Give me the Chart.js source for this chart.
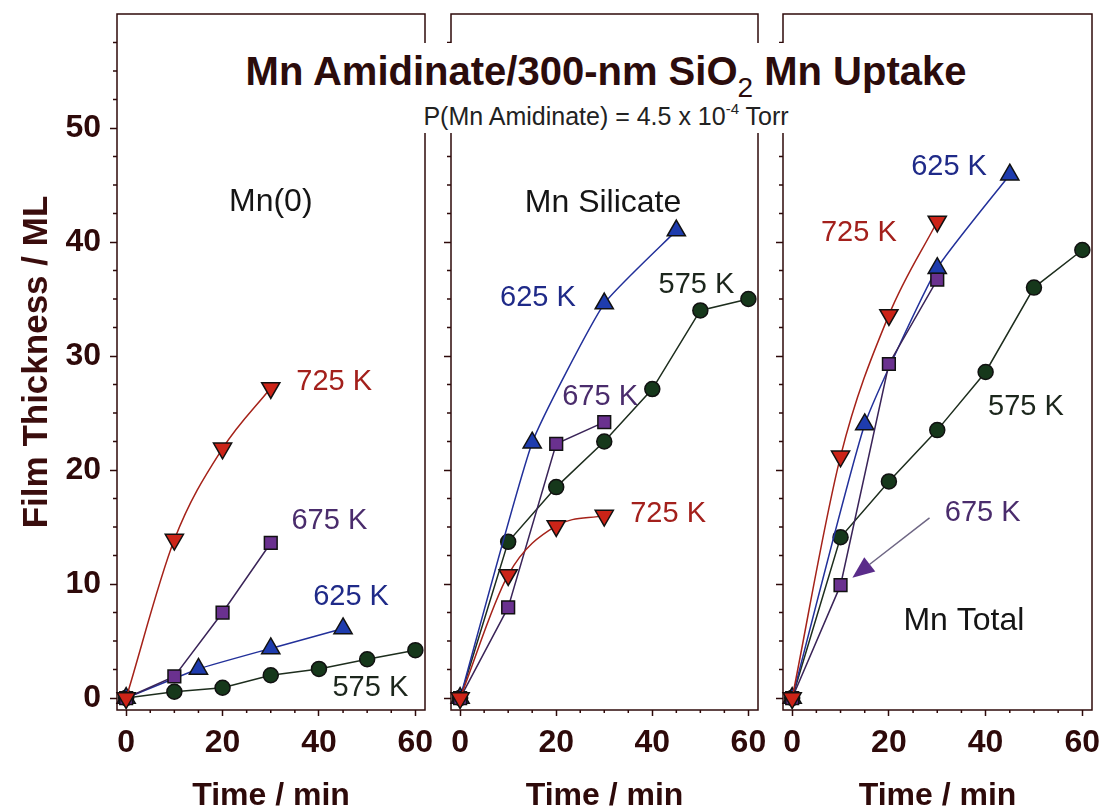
<!DOCTYPE html>
<html>
<head>
<meta charset="utf-8">
<title>Mn Uptake</title>
<script src="https://cdn.jsdelivr.net/npm/chart.js@4.4.0/dist/chart.umd.min.js"></script>
<style>
  body { margin: 0; background: #fff; }
  #wrap { position: relative; width: 1105px; height: 812px; overflow: hidden; font-family: 'Liberation Sans', Arial, sans-serif; }
  canvas { position: absolute; left: 0; top: 0; }
  #title { position: absolute; left: 241px; top: 43px; width: 730px; height: 90px; background: #fff; color: #2b0c0c; text-align: center; }
  #title .main { position: absolute; left: 0; width: 100%; top: 8px; font-size: 40px; font-weight: bold; line-height: 40px; white-space: nowrap; }
  #title .main span { position: relative; top: 12px; font-size: 28px; font-weight: normal; }
  #title .sub { position: absolute; left: 0; width: 100%; top: 55px; font-size: 25px; line-height: 25px; white-space: nowrap; color: #222; }
  #title .sub sup { font-size: 15px; position: relative; top: -2px; }
</style>
</head>
<body>
<div id="wrap">
  <canvas id="c0" width="1105" height="812"></canvas>
  <canvas id="c1" width="1105" height="812"></canvas>
  <canvas id="c2" width="1105" height="812"></canvas>
  <div id="title">
    <div class="main">Mn Amidinate/300-nm SiO<span>2</span> Mn Uptake</div>
    <div class="sub">P(Mn Amidinate) = 4.5 x 10<sup>-4</sup> Torr</div>
  </div>
</div>
<script>
// sampling times (min)
const time575 = [0, 10, 20, 30, 40, 50, 60];
const time625 = [0, 15, 30, 45];
const time675 = [0, 10, 20, 30];
const time725 = [0, 10, 20, 30];

// Mn(0) film thickness (ML)
const mn0_575 = [0, 0.55, 0.9, 2.0, 2.55, 3.4, 4.2];
const mn0_625 = [0, 2.55, 4.35, 6.1];
const mn0_675 = [0, 1.9, 7.5, 13.6];
const mn0_725 = [0, 13.9, 21.9, 27.2];

// Mn silicate
const sil_575 = [0, 13.7, 18.5, 22.5, 27.1, 34.0, 35.0];
const sil_625 = [0, 22.4, 34.6, 41.0];
const sil_675 = [0, 7.95, 22.3, 24.2];
const sil_725 = [0, 10.8, 15.1, 16.0];

// Mn total
const tot_575 = [0, 14.1, 19.0, 23.5, 28.6, 36.0, 39.3];
const tot_625 = [0, 24.0, 37.7, 45.9];
const tot_675 = [0, 9.9, 29.3, 36.7];
const tot_725 = [0, 21.2, 33.6, 41.8];

const xTicks = [0, 20, 40, 60];
const yTicks = [0, 10, 20, 30, 40, 50];

const AX = '#2e0a0a';
Chart.defaults.font.family = "'Liberation Sans', Arial, Helvetica, sans-serif";

const look = {
  575: { line: '#1d2d1d', fill: '#16381b', shape: 'circle', r: 7.5, rot: 0, mode: 'default', tension: 0, text: '#1c261c' },
  625: { line: '#22309a', fill: '#1e3cae', shape: 'triangle', r: 10.5, rot: 0, mode: 'default', tension: 0.15, text: '#1f2a88' },
  675: { line: '#3a2458', fill: '#6a318f', shape: 'rect', r: 9, rot: 0, mode: 'default', tension: 0, text: '#4a2c6c' },
  725: { line: '#a52219', fill: '#cc2418', shape: 'triangle', r: 10.5, rot: 180, mode: 'monotone', tension: 0, text: '#a3201c' }
};

function pts(xs, ys) {
  return xs.map((x, i) => ({ x: x, y: ys[i] }));
}

function series(k, xs, ys) {
  const s = look[k];
  return {
    label: k + ' K',
    data: pts(xs, ys),
    borderColor: s.line,
    borderWidth: 1.5,
    backgroundColor: s.fill,
    pointStyle: s.shape,
    pointRadius: s.r,
    pointRotation: s.rot,
    pointBackgroundColor: s.fill,
    pointBorderColor: '#111',
    pointBorderWidth: 1.5,
    cubicInterpolationMode: s.mode,
    tension: s.tension,
    clip: false
  };
}

// frame + minor ticks + text notes, all placed through the scales
function panelPlugin(notes, arrow) {
  return {
    id: 'panelExtras',
    afterDraw(chart) {
      const { ctx, chartArea: a, scales: { x, y } } = chart;
      ctx.save();
      ctx.strokeStyle = AX;
      ctx.lineWidth = 1.5;
      ctx.strokeRect(a.left, a.top, a.right - a.left, a.bottom - a.top);
      ctx.beginPath();
      for (let v = 2.5; v < 60; v += 2.5) {
        if (v % 10 === 0) continue;
        const py = y.getPixelForValue(v);
        ctx.moveTo(a.left, py);
        ctx.lineTo(a.left - 4, py);
      }
      for (let v = 5; v < 62; v += 5) {
        if (v % 20 === 0) continue;
        const px = x.getPixelForValue(v);
        ctx.moveTo(px, a.bottom);
        ctx.lineTo(px, a.bottom + 3);
      }
      ctx.stroke();

      if (arrow) {
        const x1 = x.getPixelForValue(arrow.from[0]), y1 = y.getPixelForValue(arrow.from[1]);
        const x2 = x.getPixelForValue(arrow.to[0]), y2 = y.getPixelForValue(arrow.to[1]);
        const ang = Math.atan2(y2 - y1, x2 - x1);
        const len = 22, hw = 9;
        const bx = x2 - Math.cos(ang) * len, by = y2 - Math.sin(ang) * len;
        ctx.strokeStyle = '#6e6684';
        ctx.lineWidth = 1.5;
        ctx.beginPath();
        ctx.moveTo(x1, y1);
        ctx.lineTo(bx, by);
        ctx.stroke();
        ctx.fillStyle = '#5a2c8a';
        ctx.beginPath();
        ctx.moveTo(x2, y2);
        ctx.lineTo(bx - Math.sin(ang) * hw, by + Math.cos(ang) * hw);
        ctx.lineTo(bx + Math.sin(ang) * hw, by - Math.cos(ang) * hw);
        ctx.closePath();
        ctx.fill();
      }

      ctx.textBaseline = 'middle';
      notes.forEach(n => {
        ctx.font = (n.size || 29) + "px 'Liberation Sans', Arial, sans-serif";
        ctx.fillStyle = n.color;
        ctx.textAlign = n.align || 'left';
        ctx.fillText(n.text, x.getPixelForValue(n.x), y.getPixelForValue(n.y));
      });
      ctx.restore();
    }
  };
}

function makePanel(id, datasets, box, first, notes, arrow) {
  new Chart(document.getElementById(id), {
    type: 'line',
    data: { datasets: datasets },
    plugins: [panelPlugin(notes, arrow)],
    options: {
      responsive: false,
      animation: false,
      devicePixelRatio: 1,
      layout: { padding: { left: box.left, right: box.right, top: 14, bottom: 0 } },
      plugins: { legend: { display: false }, tooltip: { enabled: false } },
      scales: {
        x: {
          type: 'linear',
          min: -1.9,
          max: 62,
          afterBuildTicks: s => { s.ticks = xTicks.map(v => ({ value: v })); },
          afterFit: s => { s.height = 102; s.paddingLeft = 0; s.paddingRight = 0; },
          border: { display: false },
          grid: { drawOnChartArea: false, drawTicks: true, tickLength: 6, tickColor: AX, tickWidth: 1.5 },
          ticks: { color: AX, autoSkip: false, maxRotation: 0, padding: 8, font: { size: 32, weight: 'bold' } },
          title: { display: true, text: 'Time / min', color: AX, padding: { top: 0, bottom: 0 }, font: { size: 32, weight: 'bold', lineHeight: 1.0 } }
        },
        y: {
          type: 'linear',
          min: -1.05,
          max: 60,
          afterBuildTicks: s => { s.ticks = yTicks.map(v => ({ value: v })); },
          afterFit: s => { s.width = box.yWidth; s.paddingTop = 0; s.paddingBottom = 0; },
          border: { display: false },
          grid: { drawOnChartArea: false, drawTicks: true, tickLength: 7, tickColor: AX, tickWidth: 1.5 },
          ticks: { display: first, color: AX, padding: 9, font: { size: 32, weight: 'bold' } },
          title: { display: first, text: 'Film Thickness / ML', color: '#3a0d0d', padding: { top: 16 }, font: { size: 35, weight: 'bold', lineHeight: 1.2 } }
        }
      }
    }
  });
}

makePanel('c0', [
  series(725, time725, mn0_725),
  series(675, time675, mn0_675),
  series(625, time625, mn0_625),
  series(575, time575, mn0_575)
], { left: 0, right: 680, yWidth: 117 }, true, [
  { text: 'Mn(0)', x: 30, y: 43.5, color: '#151515', align: 'center', size: 32 },
  { text: '725 K', x: 35.3, y: 27.75, color: look[725].text },
  { text: '675 K', x: 34.3, y: 15.5, color: look[675].text },
  { text: '625 K', x: 38.8, y: 8.9, color: look[625].text },
  { text: '575 K', x: 42.8, y: 0.9, color: look[575].text }
]);

makePanel('c1', [
  series(725, time725, sil_725),
  series(675, time675, sil_675),
  series(625, time625, sil_625),
  series(575, time575, sil_575)
], { left: 441, right: 347, yWidth: 10 }, false, [
  { text: 'Mn Silicate', x: 29.75, y: 43.4, color: '#151515', align: 'center', size: 32 },
  { text: '625 K', x: 8.3, y: 35.05, color: look[625].text },
  { text: '575 K', x: 41.3, y: 36.2, color: look[575].text },
  { text: '675 K', x: 21.25, y: 26.4, color: look[675].text },
  { text: '725 K', x: 35.4, y: 16.1, color: look[725].text }
]);

makePanel('c2', [
  series(725, time725, tot_725),
  series(675, time675, tot_675),
  series(625, time625, tot_625),
  series(575, time575, tot_575)
], { left: 773, right: 13, yWidth: 10 }, false, [
  { text: '625 K', x: 24.6, y: 46.6, color: look[625].text },
  { text: '725 K', x: 5.95, y: 40.75, color: look[725].text },
  { text: '575 K', x: 40.5, y: 25.5, color: look[575].text },
  { text: '675 K', x: 31.55, y: 16.2, color: look[675].text },
  { text: 'Mn Total', x: 35.5, y: 6.7, color: '#151515', align: 'center', size: 32 }
], { from: [28.4, 15.8], to: [12.45, 10.55] });
</script>
</body>
</html>
